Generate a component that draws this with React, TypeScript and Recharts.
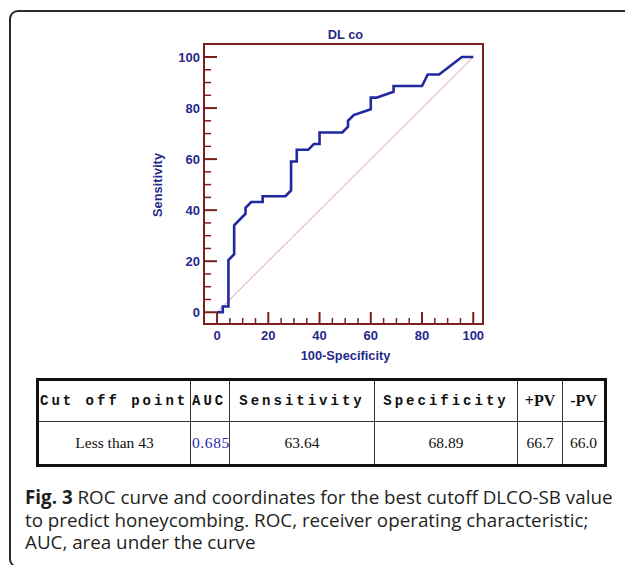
import React from 'react';
import { ComposedChart, Line, XAxis, YAxis, ReferenceArea } from 'recharts';

// ROC curve coordinates (100-Specificity, Sensitivity)
const fprValues = [0, 2.22, 2.22, 4.44, 4.44, 6.67, 6.67, 11.11, 11.11, 13.33, 17.78, 17.78, 26.67, 28.89, 28.89, 31.11, 31.11, 35.56, 37.78, 40, 40, 48.89, 51.11, 51.11, 53.33, 60, 60, 62.22, 68.89, 68.89, 80, 82.22, 86.67, 95.56, 100];
const tprValues = [0, 0, 2.27, 2.27, 20.45, 22.73, 34.09, 38.64, 40.91, 43.18, 43.18, 45.45, 45.45, 47.73, 59.09, 59.09, 63.64, 63.64, 65.91, 65.91, 70.45, 70.45, 72.73, 75, 77.27, 79.55, 84.09, 84.09, 86.36, 88.64, 88.64, 93.18, 93.18, 100, 100];

// reference diagonal
const diagX = [0, 100];
const diagY = [0, 100];

// axis ticks (minor every 5, labelled every 20)
const axisTicks = [0, 5, 10, 15, 20, 25, 30, 35, 40, 45, 50, 55, 60, 65, 70, 75, 80, 85, 90, 95, 100];
const labelledTicks = [0, 20, 40, 60, 80, 100];
const xDomain = [-5.1, 103.8];
const yDomain = [-4.6, 105.1];

const chartTitle = 'DL co';
const xTitle = '100-Specificity';
const yTitle = 'Sensitivity';

// table
const tableHeaders = ['Cut off point', 'AUC', 'Sensitivity', 'Specificity', '+PV', '-PV'];
const tableValues = ['Less than 43', '0.685', '63.64', '68.89', '66.7', '66.0'];

const captionBold = 'Fig. 3';
const captionLines = [
  ' ROC curve and coordinates for the best cutoff DLCO-SB value',
  'to predict honeycombing. ROC, receiver operating characteristic;',
  'AUC, area under the curve',
];

const curveData = fprValues.map((x, i) => ({ x, y: tprValues[i] }));
const diagData = diagX.map((x, i) => ({ x, y: diagY[i] }));

const AXIS = '#7a1e1e';
const TEXT = '#26298a';
const CURVE = '#2129a0';
const FONT = '"Liberation Sans", Arial, sans-serif';
const TICK_FS = 13;

function XTick(props: any) {
  const { x, y, payload } = props;
  const v = payload.value;
  const major = labelledTicks.includes(v);
  return (
    <g>
      <line x1={x} x2={x} y1={y} y2={y - (major ? 12 : 6)} stroke={AXIS} strokeWidth={major ? 2 : 1.5} />
      {major && (
        <text x={x} y={y + 15.5} textAnchor="middle" fill={TEXT} fontSize={TICK_FS} fontWeight="bold" fontFamily={FONT}>
          {v}
        </text>
      )}
    </g>
  );
}

function YTick(props: any) {
  const { x, y, payload } = props;
  const v = payload.value;
  const major = labelledTicks.includes(v);
  return (
    <g>
      <line x1={x} x2={x + (major ? 13 : 7)} y1={y} y2={y} stroke={AXIS} strokeWidth={major ? 2 : 1.5} />
      {major && (
        <text x={x - 4} y={y + 4.6} textAnchor="end" fill={TEXT} fontSize={TICK_FS} fontWeight="bold" fontFamily={FONT}>
          {v}
        </text>
      )}
    </g>
  );
}

function XLabel(props: any) {
  const vb = props.viewBox || {};
  return (
    <text x={vb.x + vb.width / 2 + 2} y={vb.y + 35.5} textAnchor="middle" fill={TEXT} fontSize={12.8} fontWeight="bold" fontFamily={FONT}>
      {xTitle}
    </text>
  );
}

function TitleLabel(props: any) {
  const vb = props.viewBox || {};
  return (
    <text x={vb.x + vb.width / 2 + 2} y={vb.y - 5.5} textAnchor="middle" fill={TEXT} fontSize={12.8} fontWeight="bold" fontFamily={FONT}>
      {chartTitle}
    </text>
  );
}

function YLabel(props: any) {
  const vb = props.viewBox || {};
  const cx = vb.x + vb.width - 42.3;
  const cy = vb.y + vb.height / 2 + 1;
  return (
    <text x={cx} y={cy} transform={`rotate(-90, ${cx}, ${cy})`} textAnchor="middle" fill={TEXT} fontSize={12.8} fontWeight="bold" fontFamily={FONT}>
      {yTitle}
    </text>
  );
}

const colWidths = [152, 39, 145, 143, 45, 41];

export default function App() {
  return (
    <div style={{ position: 'fixed', left: 0, top: 0, width: 625, height: 565, overflow: 'hidden', background: '#fff' }}>
      <div
        style={{
          position: 'absolute',
          left: 9,
          top: 10,
          width: 700,
          height: 558,
          boxSizing: 'border-box',
          border: '2px solid #2a2a2a',
          borderRadius: 9,
        }}
      />
      <div style={{ position: 'absolute', left: 0, top: 0 }}>
        <ComposedChart width={625} height={370} margin={{ top: 44, right: 142, bottom: 0, left: 0 }}>
          <XAxis
            xAxisId="b"
            type="number"
            dataKey="x"
            domain={xDomain}
            allowDataOverflow
            ticks={axisTicks}
            interval={0}
            tick={<XTick />}
            tickLine={false}
            tickSize={0}
            tickMargin={0}
            height={46}
            axisLine={{ stroke: AXIS, strokeWidth: 2 }}
            label={<XLabel />}
          />
          <YAxis
            yAxisId="l"
            type="number"
            domain={yDomain}
            allowDataOverflow
            ticks={axisTicks}
            interval={0}
            tick={<YTick />}
            tickLine={false}
            tickSize={0}
            tickMargin={0}
            width={204}
            axisLine={{ stroke: AXIS, strokeWidth: 2 }}
            label={<YLabel />}
          />
          <ReferenceArea
            xAxisId="b"
            yAxisId="l"
            x1={xDomain[0]}
            x2={xDomain[1]}
            y1={yDomain[0]}
            y2={yDomain[1]}
            ifOverflow="visible"
            fill="none"
            fillOpacity={0}
            stroke={AXIS}
            strokeWidth={2}
            label={<TitleLabel />}
          />
          <Line
            xAxisId="b"
            yAxisId="l"
            data={diagData}
            dataKey="y"
            type="linear"
            stroke="#e6c3c3"
            strokeWidth={1.2}
            dot={false}
            activeDot={false}
            isAnimationActive={false}
          />
          <Line
            xAxisId="b"
            yAxisId="l"
            data={curveData}
            dataKey="y"
            type="linear"
            stroke={CURVE}
            strokeWidth={2.6}
            dot={false}
            activeDot={false}
            isAnimationActive={false}
          />
        </ComposedChart>
      </div>

      <div
        style={{
          position: 'absolute',
          left: 36,
          top: 378,
          width: 571,
          height: 89,
          boxSizing: 'border-box',
          border: '3px solid #111',
          display: 'grid',
          gridTemplateColumns: colWidths.map((w) => w + 'px').join(' '),
          gridTemplateRows: '41px 42px',
        }}
      >
        {tableHeaders.map((h, i) => {
          const mono = i < 4;
          return (
            <div
              key={'h' + i}
              style={{
                boxSizing: 'border-box',
                borderRight: i < 5 ? '1px solid #333' : 'none',
                borderBottom: '1px solid #333',
                display: 'flex',
                alignItems: 'center',
                justifyContent: i < 2 ? 'flex-start' : 'center',
                paddingLeft: i < 2 ? 1 : 0,
                fontFamily: mono ? '"Liberation Mono", "Courier New", monospace' : '"Liberation Serif", "Times New Roman", serif',
                fontWeight: 'bold',
                fontSize: mono ? 14 : 16,
                letterSpacing: mono ? 3 : 0,
                color: '#111',
                whiteSpace: 'nowrap',
              }}
            >
              {h}
            </div>
          );
        })}
        {tableValues.map((v, i) => (
          <div
            key={'v' + i}
            style={{
              boxSizing: 'border-box',
              borderRight: i < 5 ? '1px solid #333' : 'none',
              display: 'flex',
              alignItems: 'center',
              justifyContent: i === 1 ? 'flex-start' : 'center',
              paddingLeft: i === 1 ? 1 : 0,
              fontFamily: '"Liberation Serif", "Times New Roman", serif',
              fontSize: 15.5,
              letterSpacing: i === 1 ? 0.6 : 0,
              color: i === 1 ? '#2a2ab0' : '#111',
              whiteSpace: 'nowrap',
            }}
          >
            {v}
          </div>
        ))}
      </div>

      <div
        style={{
          position: 'absolute',
          left: 25,
          top: 486,
          fontFamily: '"Open Sans", "Noto Sans", sans-serif',
          fontSize: 18.8,
          lineHeight: '22.5px',
          color: '#231f20',
          whiteSpace: 'nowrap',
        }}
      >
        <b>{captionBold}</b>
        {captionLines[0]}
        <br />
        {captionLines[1]}
        <br />
        {captionLines[2]}
      </div>
    </div>
  );
}
